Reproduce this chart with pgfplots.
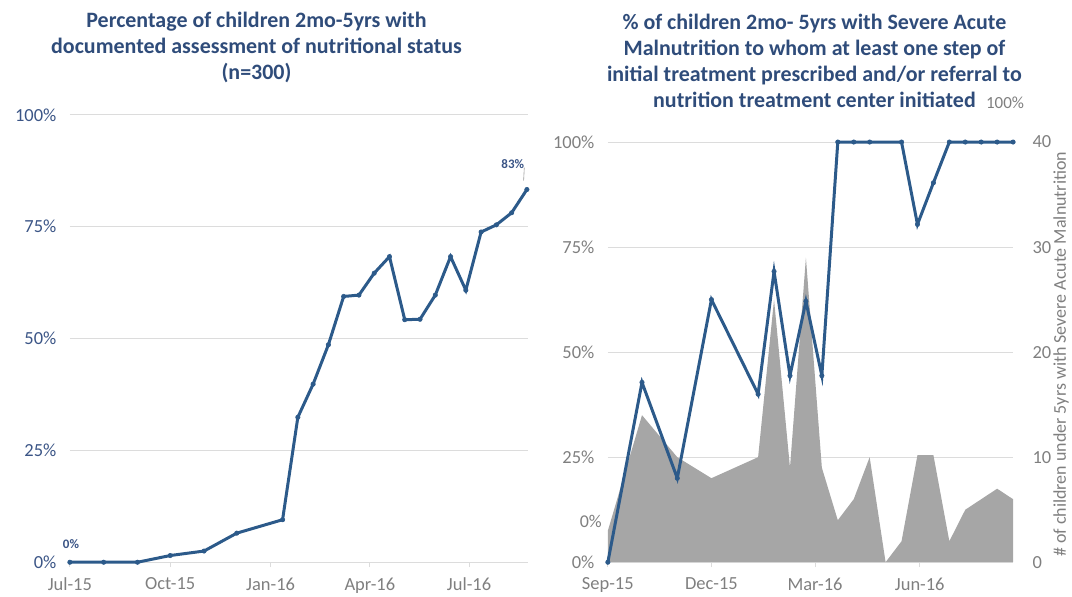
\documentclass[border=0pt]{standalone}
\usepackage{pgfplots}
\pgfplotsset{compat=1.18}
\usepackage{fontspec}
\setmainfont{Carlito}

\definecolor{lineblue}{HTML}{2C5A8A}
\definecolor{titleblue}{HTML}{2F4C7A}
\definecolor{tickblue}{HTML}{3B5586}
\definecolor{tickgray}{HTML}{7F7F7F}
\definecolor{gridgray}{HTML}{DCDCDC}
\definecolor{areagray}{HTML}{A6A6A6}

\pgfplotsset{
  chart/.style={
    scale only axis, anchor=south west, clip=false,
    axis x line*=bottom, axis y line*=left,
    axis line style={-},
    x axis line style={gridgray, line width=1pt},
    y axis line style={draw=none},
    xtick style={gridgray, line width=1pt},
    ytick style={draw=none},
    tick align=outside, major tick length=5pt,
    tick label style={font=\fontsize{18.5}{20}\selectfont},
    xticklabel style={tickgray, yshift=-7pt},
  },
  sam/.style={lineblue, line width=3pt, mark=*, mark size=2.2pt,
    mark options={fill=lineblue, draw=lineblue, line width=0.6pt}},
}

\begin{document}
\begin{tikzpicture}[x=1pt,y=1pt]
\path (0,0) rectangle (1072,595);
\coordinate (leftorigin) at (70,31.7);
\coordinate (rightorigin) at (609,31.7);

% left chart: nutritional status assessment
\node[titleblue, font=\bfseries\fontsize{22}{26}\selectfont, align=center]
  at (257,547) {Percentage of children 2mo-5yrs with\\documented assessment of nutritional status\\(n=300)};

\begin{axis}[chart, at={(leftorigin)}, width=459pt, height=448.3pt,
  xmin=0, xmax=420, ymin=0, ymax=100,
  ymajorgrids, grid style={gridgray, line width=1pt},
  xtick={0,92,184,275,366}, xticklabels={Jul-15,Oct-15,Jan-16,Apr-16,Jul-16},
  ytick={0,25,50,75,100}, yticklabels={0\%,25\%,50\%,75\%,100\%},
  yticklabel style={tickblue, xshift=-5pt}]
\addplot[sam] coordinates {
  (0,0) (31,0) (62,0) (92,1.5) (123,2.5) (153,6.5) (195,9.5)
  (209,32.4) (223,39.8) (237,48.6) (251,59.4) (265,59.7) (279,64.6)
  (293,68.3) (307,54.2) (321,54.3) (335,59.7) (349,68.3) (363,60.8)
  (377,73.8) (391,75.4) (405,78.1) (419,83.3)
};
\node[tickblue, font=\bfseries\fontsize{13}{15}\selectfont] at (axis cs:1,4) {0\%};
\node[tickblue, font=\bfseries\fontsize{13}{15}\selectfont] (lab83) at (axis cs:406,89) {83\%};
\draw[gridgray!70!black, line width=0.6pt] (lab83.south east) ++(-3,1) -- (axis cs:416,85.3);
\end{axis}

% right chart: SAM treatment
\node[titleblue, font=\bfseries\fontsize{22}{26}\selectfont, align=center]
  at (816,534) {\% of children 2mo- 5yrs with Severe Acute\\Malnutrition to whom at least one step of\\initial treatment prescribed and/or referral to\\nutrition treatment center initiated};
\node[tickgray, font=\fontsize{17}{19}\selectfont] at (1007,492) {100\%};

\begin{axis}[chart, at={(rightorigin)}, width=406pt, height=421pt,
  axis y line*=right,
  xmin=0, xmax=356, ymin=0, ymax=40,
  ymajorgrids, grid style={gridgray, line width=1pt},
  xtick={0,91,182,274}, xticklabels={Sep-15,Dec-15,Mar-16,Jun-16},
  ytick={0,10,20,30,40}, yticklabels={0,10,20,30,40},
  yticklabel style={tickgray, xshift=11pt}]
\addplot[fill=areagray, draw=none] coordinates {
  (0,3) (30,14) (61,10) (91,8) (132,10) (146,25) (160,9) (174,29)
  (188,9) (202,4) (216,6) (230,10) (244,0) (258,2) (272,10.2) (286,10.2)
  (300,2) (314,5) (328,6) (342,7) (356,6)
} \closedcycle;
\end{axis}

\begin{axis}[scale only axis, anchor=south west, clip=false,
  at={(rightorigin)}, width=406pt, height=421pt,
  hide x axis, axis y line*=left, y axis line style={draw=none},
  ytick style={draw=none}, tick align=outside, major tick length=5pt,
  xmin=0, xmax=356, ymin=0, ymax=100,
  ytick={0,25,50,75,100}, yticklabels={0\%,25\%,50\%,75\%,100\%},
  tick label style={font=\fontsize{18.5}{20}\selectfont},
  yticklabel style={tickgray, xshift=-5pt}]
\addplot[sam] coordinates {
  (0,0) (30,42.8) (61,20.0) (91,62.5) (132,40.0) (146,69.2) (160,44.4)
  (174,62.1) (188,44.4) (202,100) (216,100) (230,100) (258,100)
  (272,80.4) (286,90.3) (300,100) (314,100) (328,100) (342,100) (356,100)
};
\node[tickgray, font=\fontsize{18}{20}\selectfont] at (axis cs:-15,9.7) {0\%};
\end{axis}

\node[tickgray, rotate=90, font=\fontsize{18}{20}\selectfont] at (1063,240)
  {\# of children under 5yrs with Severe Acute Malnutrition};
\end{tikzpicture}
\end{document}
